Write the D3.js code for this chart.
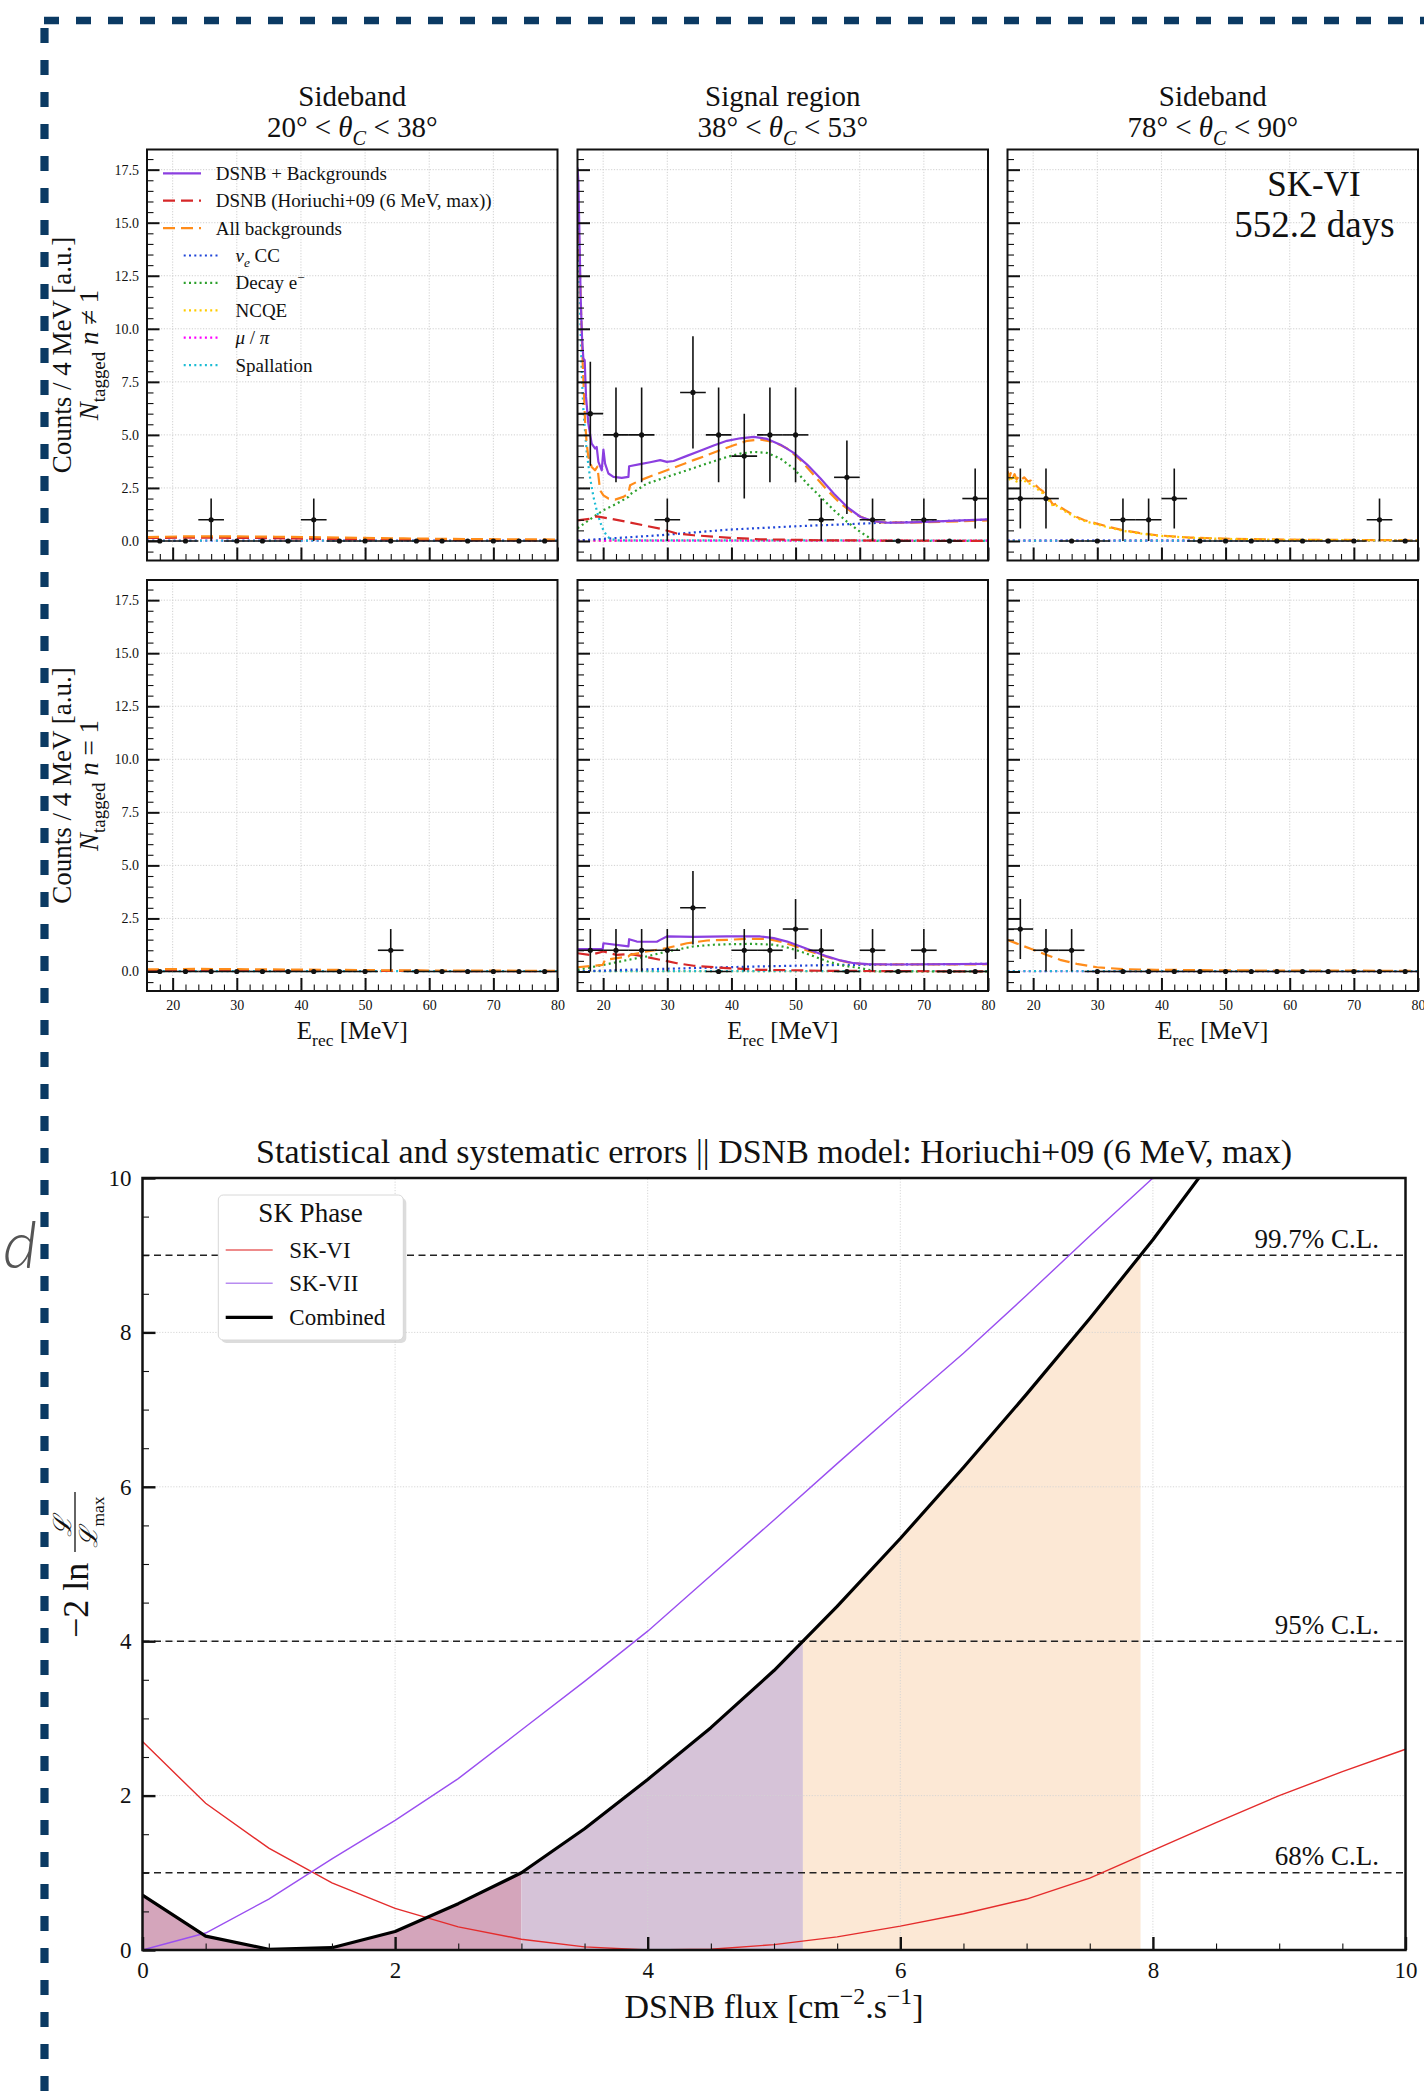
<!DOCTYPE html>
<html><head><meta charset="utf-8">
<script src="https://cdn.jsdelivr.net/npm/d3@7"></script>
<style>
body{margin:0;background:#fff;}
svg text{font-family:"Liberation Serif","Times New Roman",serif;fill:#111;}
</style></head>
<body><svg id="fig" width="1424" height="2095"></svg>
<script>
// ---------- spectra: 4 MeV bins, observed counts ----------
const energyBins = [18,22,26,30,34,38,42,46,50,54,58,62,66,70,74,78];
const countsLowMulti   = [0,0,1,0,0,0,1,0,0,0,0,0,0,0,0,0];
const countsSigMulti   = [6,5,5,1,7,5,4,5,5,1,3,1,0,1,0,2];
const countsHighMulti  = [2,2,0,0,1,1,2,0,0,0,0,0,0,0,1,0];
const countsLowSingle  = [0,0,0,0,0,0,0,0,0,1,0,0,0,0,0,0];
const countsSigSingle  = [1,1,1,1,3,0,1,1,2,1,0,1,0,1,0,0];
const countsHighSingle = [2,1,1,0,0,0,0,0,0,0,0,0,0,0,0,0];

// ---------- model curves [E_rec (MeV), counts / 4 MeV] ----------
const zeroLevel = [[16,0.02],[80,0.02]];

const lowMultiBkg  = [[16,0.18],[22,0.22],[28,0.22],[36,0.2],[46,0.16],[56,0.12],[66,0.09],[80,0.07]];
const lowMultiDsnb = [[16,0.14],[24,0.16],[34,0.14],[44,0.1],[54,0.07],[66,0.04],[80,0.03]];

const sigMultiTotal = [[16.0,17.6],[16.13,17.0],[16.29,14.65],[16.49,11.51],[16.70,9.62],[16.91,8.60],[17.12,8.52],[17.33,6.79],[17.69,5.53],[18.21,4.59],[18.73,4.36],[18.99,4.43],[19.26,3.73],[19.78,3.33],[20.04,4.31],[20.30,3.65],[20.82,3.18],[21.60,3.02],[22.90,2.97],[23.94,3.02],[24.05,3.52],[25.77,3.62],[27.33,3.71],[28.89,3.81],[29.93,3.73],[30.98,3.77],[33.06,4.01],[35.14,4.25],[37.23,4.50],[39.30,4.72],[41.39,4.84],[43.47,4.91],[45.56,4.81],[47.64,4.54],[49.72,4.15],[51.80,3.60],[53.89,2.94],[55.98,2.23],[58.05,1.60],[60.14,1.13],[62.23,0.93],[64.31,0.86],[67.96,0.88],[73.16,0.94],[80,1.02]];
const sigMultiBkg = [[16.0,16.3],[16.13,15.4],[16.49,11.5],[16.81,8.4],[17.17,5.7],[17.43,4.6],[17.69,3.96],[18.21,3.49],[18.73,3.33],[19.1,3.5],[19.52,2.39],[20.04,2.15],[20.82,2.0],[21.86,1.95],[23.16,2.08],[23.94,2.23],[24.2,2.63],[25.77,2.86],[27.85,3.10],[29.93,3.33],[32.02,3.57],[34.1,3.81],[36.19,4.04],[38.27,4.28],[40.36,4.51],[42.45,4.72],[44.53,4.78],[46.61,4.67],[48.7,4.36],[50.78,3.81],[52.86,3.10],[54.95,2.39],[57.03,1.76],[59.11,1.29],[61.2,1.01],[63.28,0.88],[67.96,0.86],[80,0.97]];
const sigMultiDsnb = [[16.0,0.97],[18.0,1.05],[19.0,1.16],[21.08,1.05],[23.68,0.90],[26.28,0.74],[28.89,0.58],[31.5,0.35],[34.1,0.27],[39.3,0.16],[44.5,0.08],[54.9,0.03],[80,0.0]];
const sigMultiNue = [[16,0.02],[20.56,0.11],[28.89,0.27],[39.3,0.53],[49.7,0.69],[58.05,0.79],[62.75,0.85],[80,1.0]];
const sigMultiDecay = [[16.0,0.6],[18.47,1.13],[20.04,1.45],[22.12,1.76],[23.94,2.08],[24.2,2.2],[26.8,2.70],[29.93,3.02],[33.06,3.33],[36.19,3.65],[39.3,3.96],[41.39,4.12],[43.47,4.20],[45.56,4.15],[47.64,3.88],[49.72,3.41],[51.8,2.70],[53.89,2.08],[55.98,1.45],[58.05,0.90],[60.14,0.42],[61.7,0.11],[62.75,0],[80,0]];
const sigMultiSpall = [[16.0,17.0],[16.13,14.5],[16.39,11.0],[16.65,8.0],[16.91,6.2],[17.43,4.2],[17.95,3.0],[18.47,2.1],[18.99,1.45],[19.52,0.9],[20.04,0.5],[20.56,0.25],[21.08,0.1],[22.12,0.03],[80,0.02]];

const highMultiBkg = [[16,3.3],[16.3,3.0],[16.5,3.2],[16.8,2.95],[17.1,3.15],[17.4,2.9],[17.8,3.05],[18.2,2.9],[18.6,3.0],[19.2,2.8],[19.6,2.85],[20.0,2.70],[20.5,2.6],[21.0,2.45],[21.5,2.35],[22.1,2.08],[22.6,1.95],[23.1,1.7],[23.6,1.75],[24.2,1.60],[25.0,1.45],[26.8,1.13],[28.0,0.98],[29.9,0.82],[32.0,0.65],[34.1,0.5],[36.5,0.38],[39.3,0.27],[44.5,0.16],[49.7,0.11],[60.1,0.06],[80,0.03]];
const highMultiNcqe = [[16,3.15],[16.3,2.9],[16.5,3.05],[16.8,2.85],[17.1,3.0],[17.4,2.8],[17.8,2.9],[18.2,2.8],[18.6,2.85],[19.2,2.7],[19.6,2.7],[20.0,2.6],[20.5,2.5],[21.0,2.35],[21.5,2.25],[22.1,2.0],[22.6,1.87],[23.1,1.64],[23.6,1.68],[24.2,1.54],[25.0,1.39],[26.8,1.08],[28.0,0.94],[29.9,0.78],[32.0,0.62],[34.1,0.47],[36.5,0.36],[39.3,0.25],[44.5,0.15],[49.7,0.1],[60.1,0.05],[80,0.02]];

const lowSingleBkg  = [[16,0.1],[24,0.12],[34,0.1],[44,0.08],[56,0.05],[80,0.03]];
const lowSingleDsnb = [[16,0.06],[30,0.05],[50,0.03],[80,0.01]];

const sigSingleTotal = [[16,1.05],[19.93,1.05],[20.04,1.33],[23.94,1.18],[24.05,1.52],[25.25,1.41],[28.37,1.40],[28.89,1.49],[29.93,1.65],[34.1,1.63],[39.3,1.65],[44.5,1.65],[46.6,1.57],[48.7,1.41],[50.8,1.18],[52.9,0.94],[54.9,0.71],[57.0,0.52],[59.1,0.39],[61.2,0.35],[65.3,0.33],[80,0.36]];
const sigSingleBkg = [[16,0.20],[19.93,0.31],[20.3,0.55],[23.94,0.71],[24.2,0.78],[26.8,0.94],[29.93,1.10],[33.06,1.33],[36.19,1.46],[39.3,1.49],[42.45,1.54],[45.56,1.54],[47.64,1.41],[49.72,1.21],[51.8,0.99],[53.89,0.78],[55.98,0.58],[58.05,0.44],[60.14,0.36],[63.28,0.33],[80,0.34]];
const sigSingleDsnb = [[16,0.86],[18.0,0.78],[20.04,0.94],[22.1,0.78],[24.2,0.82],[26.3,0.71],[28.9,0.55],[31.5,0.39],[34.1,0.27],[39.3,0.16],[44.5,0.08],[54.9,0.03],[80,0]];
const sigSingleNue = [[16,0.0],[23.7,0.08],[34.1,0.16],[44.5,0.24],[54.9,0.30],[65.3,0.33],[80,0.36]];
const sigSingleDecay = [[16,0.08],[20.04,0.31],[23.94,0.55],[26.8,0.71],[29.93,0.94],[34.1,1.18],[37.2,1.26],[40.4,1.29],[43.5,1.30],[46.6,1.26],[48.7,1.13],[50.8,0.94],[52.9,0.71],[55.0,0.47],[57.5,0.27],[60.1,0.16],[62.2,0.03],[63,0],[80,0]];

const highSingleBkg = [[16,1.49],[17.95,1.26],[20.04,1.02],[22.12,0.78],[24.2,0.55],[26.8,0.36],[29.93,0.20],[34.1,0.11],[39.3,0.08],[49.7,0.05],[80,0.03]];

// ---------- likelihood scan ----------
const fluxGrid   = [0,0.5,1,1.5,2,2.5,3,3.5,4,4.5,5,5.5,6,6.5,7,7.5,8,8.5,9,9.5,10];
const chi2SKVI   = [2.70,1.90,1.32,0.87,0.54,0.30,0.14,0.04,0.0,0.01,0.07,0.17,0.31,0.47,0.66,0.93,1.29,1.65,2.0,2.31,2.60];
const fluxSKVII  = [0,0.5,1,1.5,2,2.5,3,3.5,4,4.5,5,5.5,6,6.5,7,7.5,8,8.5];
const chi2SKVII  = [0,0.22,0.66,1.18,1.68,2.22,2.85,3.48,4.13,4.85,5.57,6.30,7.02,7.73,8.48,9.25,10.0,10.8];
const fluxComb   = [0,0.5,1,1.5,2,2.5,3,3.5,4,4.5,5,5.5,6,6.5,7,7.5,8,8.5];
const chi2Comb   = [0.71,0.18,0.01,0.03,0.24,0.60,1.0,1.57,2.21,2.88,3.62,4.45,5.33,6.25,7.20,8.18,9.20,10.3];
const clLevels   = [1, 4, 9];
const clLabels   = ["68% C.L.", "95% C.L.", "99.7% C.L."];
const bandColors = ["#d4a5bb", "#d6c3d8", "#fce8d5"];

// ---------- styling ----------
const styles = {
  total: {color:"#8b3fe0", width:2.2, dash:null},
  dsnb:  {color:"#d62728", width:2.2, dash:"12 6"},
  bkg:   {color:"#ff8c1a", width:2.2, dash:"12 6"},
  nue:   {color:"#1f45d8", width:2.2, dash:"2 3.3"},
  decay: {color:"#2ca02c", width:2.2, dash:"2 3.3"},
  ncqe:  {color:"#ffcc00", width:2.2, dash:"2 3.3"},
  mupi:  {color:"#ff00ff", width:2.2, dash:"2 3.3"},
  spall: {color:"#1cbcd4", width:2.2, dash:"2 3.3"}
};

const svg = d3.select("#fig");
const frameColor = "#0b3a63";

// outer dashed frame
svg.append("line").attr("x1",44).attr("x2",1424).attr("y1",20.5).attr("y2",20.5)
  .attr("stroke",frameColor).attr("stroke-width",7.5).attr("stroke-dasharray","15 17");
svg.append("line").attr("x1",44.5).attr("x2",44.5).attr("y1",28).attr("y2",2095)
  .attr("stroke",frameColor).attr("stroke-width",8.2).attr("stroke-dasharray","15 17");

// panel letter
svg.append("text").attr("x",3).attr("y",1268).text("d")
  .style("font-family","Lato, 'Open Sans', sans-serif").style("font-style","italic")
  .style("font-weight","300").style("font-size","66px").style("fill","#555");

// rich text helper: segments with italic / sub / sup
function richText(sel, segs, size) {
  let cur = 0;
  segs.forEach(s => {
    const target = s.sub ? size*0.27 : s.sup ? -size*0.4 : 0;
    const ts = sel.append("tspan").text(s.t).attr("dy", target - cur);
    cur = target;
    if (s.sub || s.sup) ts.attr("font-size", size*0.7);
    if (s.i) ts.style("font-style","italic");
  });
  return sel;
}

// ---------- spectra panels ----------
const panelX = [147, 577.5, 1007.5], panelW = 410.5, rowY = [149.5, 580], panelH = 411;
const xE = d3.scaleLinear().domain([16,80]).range([0,panelW]);
const yC = d3.scaleLinear().domain([-0.92,18.45]).range([panelH,0]);
const yMajor = d3.range(0, 17.6, 2.5);
const yMinor = d3.range(-0.5, 18.3, 0.5).filter(v => Math.abs(v/2.5 - Math.round(v/2.5)) > 1e-6);
const xMajor = [20,30,40,50,60,70,80];
const xMinor = d3.range(18, 80, 2).filter(v => v % 10 !== 0);

const panels = [
  {col:0,row:0,counts:countsLowMulti, curves:[["mupi",zeroLevel],["spall",zeroLevel],["dsnb",lowMultiDsnb],["bkg",lowMultiBkg]]},
  {col:1,row:0,counts:countsSigMulti, curves:[["ncqe",zeroLevel],["mupi",zeroLevel],["nue",sigMultiNue],["decay",sigMultiDecay],["spall",sigMultiSpall],["dsnb",sigMultiDsnb],["bkg",sigMultiBkg],["total",sigMultiTotal]]},
  {col:2,row:0,counts:countsHighMulti,curves:[["nue",zeroLevel],["mupi",zeroLevel],["spall",zeroLevel],["bkg",highMultiBkg],["ncqe",highMultiNcqe]]},
  {col:0,row:1,counts:countsLowSingle, curves:[["spall",zeroLevel],["dsnb",lowSingleDsnb],["bkg",lowSingleBkg]]},
  {col:1,row:1,counts:countsSigSingle, curves:[["ncqe",zeroLevel],["spall",zeroLevel],["nue",sigSingleNue],["decay",sigSingleDecay],["dsnb",sigSingleDsnb],["bkg",sigSingleBkg],["total",sigSingleTotal]]},
  {col:2,row:1,counts:countsHighSingle,curves:[["mupi",zeroLevel],["spall",zeroLevel],["bkg",highSingleBkg]]}
];

const lineE = d3.line().x(d => xE(d[0])).y(d => yC(d[1]));

panels.forEach((p, i) => {
  const g = svg.append("g").attr("transform", `translate(${panelX[p.col]},${rowY[p.row]})`);
  const cid = "clip" + i;
  g.append("clipPath").attr("id", cid).append("rect").attr("width", panelW).attr("height", panelH);

  // grid
  const grid = g.append("g").attr("stroke","#cbcbcb").attr("stroke-width",0.9).attr("stroke-dasharray","1.2 1.6");
  xMajor.filter(v => v < 80).forEach(v => grid.append("line").attr("x1",xE(v)).attr("x2",xE(v)).attr("y1",0).attr("y2",panelH));
  yMajor.forEach(v => grid.append("line").attr("x1",0).attr("x2",panelW).attr("y1",yC(v)).attr("y2",yC(v)));

  // model curves
  const cg = g.append("g").attr("clip-path", `url(#${cid})`);
  p.curves.forEach(([key, data]) => {
    const s = styles[key];
    cg.append("path").attr("d", lineE(data)).attr("fill","none")
      .attr("stroke", s.color).attr("stroke-width", s.width)
      .attr("stroke-dasharray", s.dash).attr("stroke-linejoin","round");
  });

  // data with Poisson errors
  const dg = cg.append("g");
  energyBins.forEach((e, k) => {
    const n = p.counts[k], err = Math.sqrt(n);
    dg.append("line").attr("x1",xE(e-2)).attr("x2",xE(e+2)).attr("y1",yC(n)).attr("y2",yC(n))
      .attr("stroke","#111").attr("stroke-width",1.6);
    if (n > 0) dg.append("line").attr("x1",xE(e)).attr("x2",xE(e)).attr("y1",yC(n-err)).attr("y2",yC(n+err))
      .attr("stroke","#111").attr("stroke-width",1.6);
    dg.append("circle").attr("cx",xE(e)).attr("cy",yC(n)).attr("r",2.6).attr("fill","#111");
  });

  // ticks
  const styleAxis = (ax, w) => ax.call(a => a.select(".domain").remove())
    .call(a => a.selectAll("line").attr("stroke","#111").attr("stroke-width", w))
    .attr("font-size", 14);
  styleAxis(g.append("g").call(d3.axisLeft(yC).tickValues(yMajor).tickSize(-12.5).tickPadding(8)
    .tickFormat(p.col === 0 ? d3.format(".1f") : () => "")), 2);
  styleAxis(g.append("g").call(d3.axisLeft(yC).tickValues(yMinor).tickSize(-6.5).tickFormat(() => "")), 1.1);
  styleAxis(g.append("g").attr("transform",`translate(0,${panelH})`).call(d3.axisBottom(xE).tickValues(xMajor).tickSize(-13).tickPadding(9)
    .tickFormat(p.row === 1 ? d3.format("d") : () => "")), 2);
  styleAxis(g.append("g").attr("transform",`translate(0,${panelH})`).call(d3.axisBottom(xE).tickValues(xMinor).tickSize(-6.5).tickFormat(() => "")), 1.1);

  g.append("rect").attr("width",panelW).attr("height",panelH).attr("fill","none").attr("stroke","#111").attr("stroke-width",2);
});

// column titles
const colTitles = [
  ["Sideband", [{t:"20° < "},{t:"θ",i:true},{t:"C",i:true,sub:true},{t:" < 38°"}]],
  ["Signal region", [{t:"38° < "},{t:"θ",i:true},{t:"C",i:true,sub:true},{t:" < 53°"}]],
  ["Sideband", [{t:"78° < "},{t:"θ",i:true},{t:"C",i:true,sub:true},{t:" < 90°"}]]
];
colTitles.forEach((t, c) => {
  const cx = panelX[c] + panelW/2;
  svg.append("text").attr("x",cx).attr("y",106).attr("text-anchor","middle").attr("font-size",29).text(t[0]);
  richText(svg.append("text").attr("x",cx).attr("y",137).attr("text-anchor","middle").attr("font-size",29), t[1], 29);
});

// row y labels
[["≠", 0], ["=", 1]].forEach(([rel, r]) => {
  const cy = rowY[r] + panelH/2;
  svg.append("text").attr("transform",`translate(71,${cy}) rotate(-90)`).attr("text-anchor","middle")
    .attr("font-size",27).text("Counts / 4 MeV [a.u.]");
  richText(svg.append("text").attr("transform",`translate(98,${cy}) rotate(-90)`).attr("text-anchor","middle").attr("font-size",27),
    [{t:"N",i:true},{t:"tagged",sub:true},{t:" "},{t:"n",i:true},{t:` ${rel} 1`}], 27);
});

// x labels
panelX.forEach(x0 => {
  richText(svg.append("text").attr("x",x0+panelW/2).attr("y",1039).attr("text-anchor","middle").attr("font-size",25),
    [{t:"E"},{t:"rec",sub:true},{t:" [MeV]"}], 25);
});

// run info
svg.append("text").attr("x",1314).attr("y",196).attr("text-anchor","middle").attr("font-size",35).text("SK-VI");
svg.append("text").attr("x",1314.5).attr("y",237).attr("text-anchor","middle").attr("font-size",37).text("552.2 days");

// spectra legend
const legendRows = [
  {key:"total", label:[{t:"DSNB + Backgrounds"}], indent:false},
  {key:"dsnb", label:[{t:"DSNB (Horiuchi+09 (6 MeV, max))"}], indent:false},
  {key:"bkg", label:[{t:"All backgrounds"}], indent:false},
  {key:"nue", label:[{t:"ν",i:true},{t:"e",i:true,sub:true},{t:" CC"}], indent:true},
  {key:"decay", label:[{t:"Decay e"},{t:"−",sup:true}], indent:true},
  {key:"ncqe", label:[{t:"NCQE"}], indent:true},
  {key:"mupi", label:[{t:"μ",i:true},{t:" / "},{t:"π",i:true}], indent:true},
  {key:"spall", label:[{t:"Spallation"}], indent:true}
];
legendRows.forEach((r, k) => {
  const y = 173.3 + k*27.4, s = styles[r.key];
  const x1 = r.indent ? 183.7 : 163, x2 = r.indent ? 220.4 : 201, tx = r.indent ? 235.5 : 215.8;
  svg.append("line").attr("x1",x1).attr("x2",x2).attr("y1",y).attr("y2",y)
    .attr("stroke",s.color).attr("stroke-width",s.width).attr("stroke-dasharray",s.dash);
  richText(svg.append("text").attr("x",tx).attr("y",y+6.5).attr("font-size",19), r.label, 19);
});

// ---------- likelihood panel ----------
const bx = d3.scaleLinear().domain([0,10]).range([142.5,1405.5]);
const by = d3.scaleLinear().domain([0,10]).range([1950,1178]);
const L = svg.append("g");
L.append("clipPath").attr("id","clipL").append("rect")
  .attr("x",bx(0)).attr("y",by(10)).attr("width",bx(10)-bx(0)).attr("height",by(0)-by(10));

const combPts = fluxComb.map((x,k) => [x, chi2Comb[k]]);
const combAt = x => {
  for (let k = 0; k < combPts.length-1; k++) {
    const [x0,y0] = combPts[k], [x1,y1] = combPts[k+1];
    if (x >= x0 && x <= x1) return y0 + (y1-y0)*(x-x0)/(x1-x0);
  }
  return combPts[combPts.length-1][1];
};
const minIdx = d3.minIndex(chi2Comb);
const crossAt = lv => {
  for (let k = minIdx; k < combPts.length-1; k++) {
    const [x0,y0] = combPts[k], [x1,y1] = combPts[k+1];
    if (y0 < lv && y1 >= lv) return x0 + (x1-x0)*(lv-y0)/(y1-y0);
  }
  return 10;
};
const edges = [0, ...clLevels.map(crossAt)];
const areaL = d3.area().x(d => bx(d[0])).y0(by(0)).y1(d => by(d[1]));
for (let b = 0; b < 3; b++) {
  const a = edges[b], e = edges[b+1];
  const pts = [[a, combAt(a)], ...combPts.filter(d => d[0] > a && d[0] < e), [e, combAt(e)]];
  L.append("path").attr("d", areaL(pts)).attr("fill", bandColors[b]).attr("clip-path","url(#clipL)");
}

// grid
const gL = L.append("g").attr("stroke","#d2d2d2").attr("stroke-width",0.9).attr("stroke-dasharray","1.2 1.6");
[2,4,6,8].forEach(v => {
  gL.append("line").attr("x1",bx(v)).attr("x2",bx(v)).attr("y1",by(0)).attr("y2",by(10));
  gL.append("line").attr("x1",bx(0)).attr("x2",bx(10)).attr("y1",by(v)).attr("y2",by(v));
});

// confidence levels
clLevels.forEach((lv, k) => {
  L.append("line").attr("x1",bx(0)).attr("x2",bx(10)).attr("y1",by(lv)).attr("y2",by(lv))
    .attr("stroke","#222").attr("stroke-width",1.6).attr("stroke-dasharray","7 4.5");
  L.append("text").attr("x",1379).attr("y",by(lv)-7.5).attr("text-anchor","end").attr("font-size",27).text(clLabels[k]);
});

// curves
const lineL = d3.line().x(d => bx(d[0])).y(d => by(d[1]));
const cL = L.append("g").attr("clip-path","url(#clipL)");
cL.append("path").attr("d", lineL(fluxGrid.map((x,k) => [x, chi2SKVI[k]]))).attr("fill","none").attr("stroke","#e42c2c").attr("stroke-width",1.4);
cL.append("path").attr("d", lineL(fluxSKVII.map((x,k) => [x, chi2SKVII[k]]))).attr("fill","none").attr("stroke","#9a4ff0").attr("stroke-width",1.4);
cL.append("path").attr("d", lineL(combPts)).attr("fill","none").attr("stroke","#000").attr("stroke-width",3.2).attr("stroke-linejoin","round");

// axes
const axL = (sel, w, fs) => sel.call(a => a.select(".domain").remove())
  .call(a => a.selectAll("line").attr("stroke","#111").attr("stroke-width", w)).attr("font-size", fs);
const majL = [0,2,4,6,8,10], minL = d3.range(0.5,10,0.5).filter(v => v % 2 !== 0);
axL(L.append("g").attr("transform",`translate(${bx(0)},0)`).call(d3.axisLeft(by).tickValues(majL).tickSize(-13).tickPadding(11).tickFormat(d3.format("d"))), 2.4, 23);
axL(L.append("g").attr("transform",`translate(${bx(0)},0)`).call(d3.axisLeft(by).tickValues(minL).tickSize(-6.5).tickFormat(() => "")), 1.1, 23);
axL(L.append("g").attr("transform",`translate(0,${by(0)})`).call(d3.axisBottom(bx).tickValues(majL).tickSize(-13).tickPadding(12).tickFormat(d3.format("d"))), 2.4, 23);
axL(L.append("g").attr("transform",`translate(0,${by(0)})`).call(d3.axisBottom(bx).tickValues(minL).tickSize(-6.5).tickFormat(() => "")), 1.1, 23);

L.append("rect").attr("x",bx(0)).attr("y",by(10)).attr("width",bx(10)-bx(0)).attr("height",by(0)-by(10))
  .attr("fill","none").attr("stroke","#111").attr("stroke-width",2.5);

// title and axis labels
L.append("text").attr("x",774).attr("y",1163).attr("text-anchor","middle").attr("font-size",34)
  .text("Statistical and systematic errors || DSNB model: Horiuchi+09 (6 MeV, max)");
richText(L.append("text").attr("x",774).attr("y",2018).attr("text-anchor","middle").attr("font-size",34),
  [{t:"DSNB flux [cm"},{t:"−2",sup:true},{t:".s"},{t:"−1",sup:true},{t:"]"}], 34);
L.append("text").attr("transform","translate(88,1638) rotate(-90)").attr("font-size",36).text("−2 ln");
const fr = L.append("g").attr("transform","translate(75,1522) rotate(-90)");
fr.append("line").attr("x1",-30).attr("x2",30).attr("y1",0).attr("y2",0).attr("stroke","#111").attr("stroke-width",1.3);
fr.append("text").attr("x",-4).attr("y",-4).attr("text-anchor","middle").attr("font-size",25).style("font-style","italic").text("ℒ");
richText(fr.append("text").attr("x",0).attr("y",22).attr("text-anchor","middle").attr("font-size",25),
  [{t:"ℒ",i:true},{t:"max",sub:true}], 25);

// legend
const lg = L.append("g");
lg.append("rect").attr("x",221.3).attr("y",1198).attr("width",185).attr("height",145).attr("rx",5).attr("fill","#c4c4c4").attr("opacity",0.6);
lg.append("rect").attr("x",218.3).attr("y",1195).attr("width",185).attr("height",145).attr("rx",5).attr("fill","#fff").attr("stroke","#d8d8d8");
lg.append("text").attr("x",310.5).attr("y",1221.7).attr("text-anchor","middle").attr("font-size",27).text("SK Phase");
const legL = [["SK-VI","#e86464",1.6],["SK-VII","#b88cf0",1.6],["Combined","#000",3.2]];
legL.forEach(([lab,col,w], k) => {
  const y = [1250,1283.3,1317.3][k];
  lg.append("line").attr("x1",225.7).attr("x2",272.7).attr("y1",y).attr("y2",y).attr("stroke",col).attr("stroke-width",w);
  lg.append("text").attr("x",289.3).attr("y",y+8).attr("font-size",23).text(lab);
});
</script>
</body></html>
